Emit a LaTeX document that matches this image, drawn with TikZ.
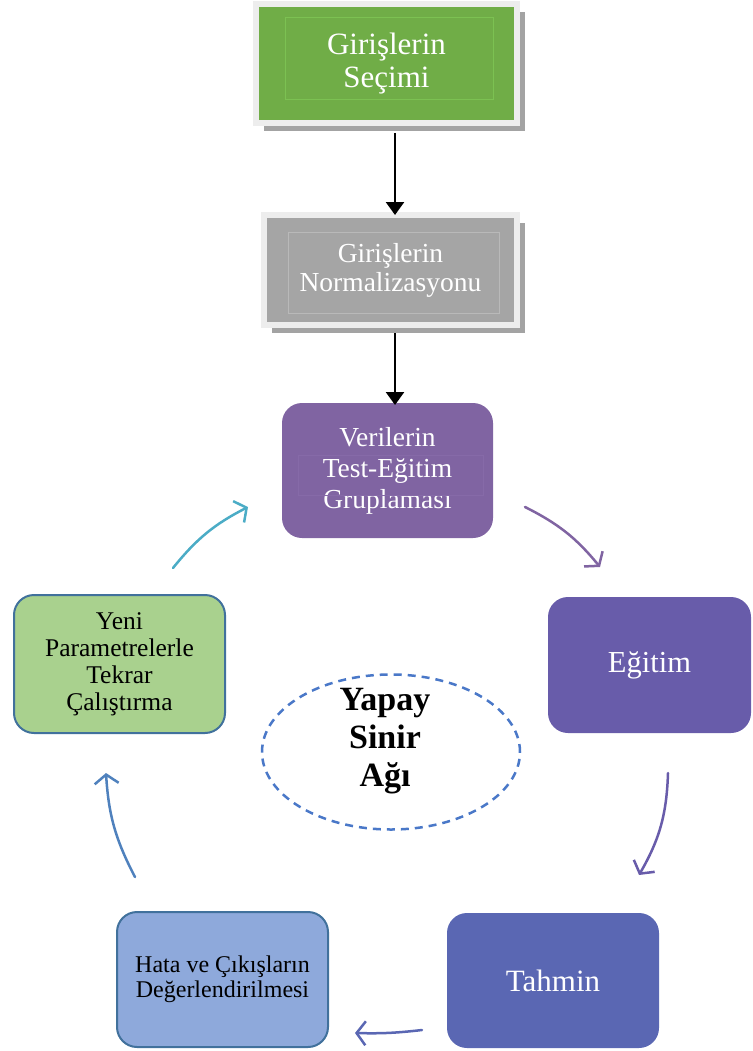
\documentclass[tikz,border=0pt]{standalone}
\usepackage{fontspec}
\setmainfont{Liberation Serif}
\usetikzlibrary{arrows.meta,shadows,shapes.geometric}

\definecolor{secimgreen}{HTML}{70AD47}
\definecolor{secimline}{HTML}{7CC152}
\definecolor{normgray}{HTML}{A5A5A5}
\definecolor{normline}{HTML}{B9B9B9}
\definecolor{framegray}{HTML}{EDEDED}
\definecolor{shadowgray}{HTML}{A3A3A3}
\definecolor{verilerpurple}{HTML}{8064A2}
\definecolor{verilerline}{HTML}{866AA8}
\definecolor{egitimpurple}{HTML}{685CAA}
\definecolor{tahminblue}{HTML}{5A67B3}
\definecolor{hatablue}{HTML}{8EA9DB}
\definecolor{yenigreen}{HTML}{A9D18E}
\definecolor{borderblue}{HTML}{41719C}
\definecolor{ysablue}{HTML}{4A78C8}
\definecolor{hataarrow}{HTML}{4F81BD}
\definecolor{yeniarrow}{HTML}{4BACC6}

\begin{document}
\begin{tikzpicture}[x=1pt,y=-1pt,
  framebox/.style={rectangle,line width=6pt,draw=framegray,outer sep=0pt,inner sep=0pt,
    text=white,align=center,
    drop shadow={shadow xshift=8pt,shadow yshift=-8pt,fill=shadowgray,opacity=1}},
  cyclebox/.style={rectangle,rounded corners=20pt,outer sep=0pt,inner sep=0pt,align=center,
    minimum width=211pt,minimum height=135pt},
  flow/.style={line width=2.5pt,-{Triangle[width=18pt,length=13pt]}},
  cyc/.style={line width=2.5pt,line cap=round,-{Straight Barb[length=9pt,width=24pt]}}]

\useasboundingbox (0,0) rectangle (752,1051);

\node[framebox,fill=secimgreen,minimum width=261pt,minimum height=119pt,
  font=\fontsize{31}{33}\selectfont] (secim) at (386.5,63.5) {Girişlerin\\Seçimi};
\draw[secimline,line width=1pt] ([shift={(29,14)}]secim.north west) rectangle ([shift={(-24,-23)}]secim.south east);

\node[framebox,fill=normgray,minimum width=253pt,minimum height=110pt,
  font=\fontsize{27.5}{29}\selectfont] (norm) at (390.5,270) {Girişlerin\\Normalizasyonu};
\draw[normline,line width=1pt] ([shift={(24,17)}]norm.north west) rectangle ([shift={(-18,-12)}]norm.south east);

\node[cyclebox,fill=verilerpurple,text=white,font=\fontsize{27.5}{31}\selectfont] (verilerin) at (387.5,470.5) {Verilerin\\Test-Eğitim\\Gruplaması};
\draw[verilerline,line width=0.6pt] ([shift={(16,52)}]verilerin.north west) rectangle ([shift={(-10,-43)}]verilerin.south east);

\node[cyclebox,fill=egitimpurple,text=white,minimum width=203pt,minimum height=136pt,
  font=\fontsize{30.5}{34}\selectfont] (egitim) at (649.5,665) {Eğitim};
\node[cyclebox,fill=tahminblue,text=white,minimum width=212pt,
  font=\fontsize{31}{34}\selectfont] (tahmin) at (553,980.5) {Tahmin};
\node[cyclebox,fill=hatablue,draw=borderblue,line width=2pt,
  font=\fontsize{24}{25}\selectfont] (hata) at (222.5,979.5) {Hata ve Çıkışların\\Değerlendirilmesi};
\node[cyclebox,fill=yenigreen,draw=borderblue,line width=2pt,minimum height=138pt,
  font=\fontsize{25.5}{27}\selectfont] (yeni) at (119.5,664) {Yeni\\Parametrelerle\\Tekrar\\Çalıştırma};

\node[ellipse,draw=ysablue,line width=2.5pt,dash pattern=on 8pt off 6pt,
  minimum width=258pt,minimum height=155pt] (ysa) at (391,752) {};
\node[align=center,font=\bfseries\fontsize{34}{38}\selectfont] (ysayazi) at (385,741) {Yapay\\Sinir\\Ağı};

\draw[flow] ([shift={(8.5,10)}]secim.south) -- ([xshift=4.5pt]norm.north);
\draw[flow] ([shift={(4.5,8)}]norm.south) -- ([shift={(7.5,2)}]verilerin.north);

\draw[cyc,verilerpurple] ([shift={(32,36.5)}]verilerin.east) to[bend left=12] ([shift={(-49.5,-30)}]egitim.north);
\draw[cyc,egitimpurple] ([shift={(18.5,40)}]egitim.south) to[bend left=14] ([shift={(86,-38)}]tahmin.north);
\draw[cyc,tahminblue] ([shift={(-25,49.5)}]tahmin.west) to[bend left=4] ([shift={(27,53.5)}]hata.east);
\draw[cyc,hataarrow] ([shift={(-87.5,-35)}]hata.north) to[bend left=12] ([shift={(-13.5,40)}]yeni.south);
\draw[cyc,yeniarrow] ([shift={(53.5,-27)}]yeni.north) to[bend left=12] ([shift={(-34,36.5)}]verilerin.west);

\end{tikzpicture}
\end{document}
